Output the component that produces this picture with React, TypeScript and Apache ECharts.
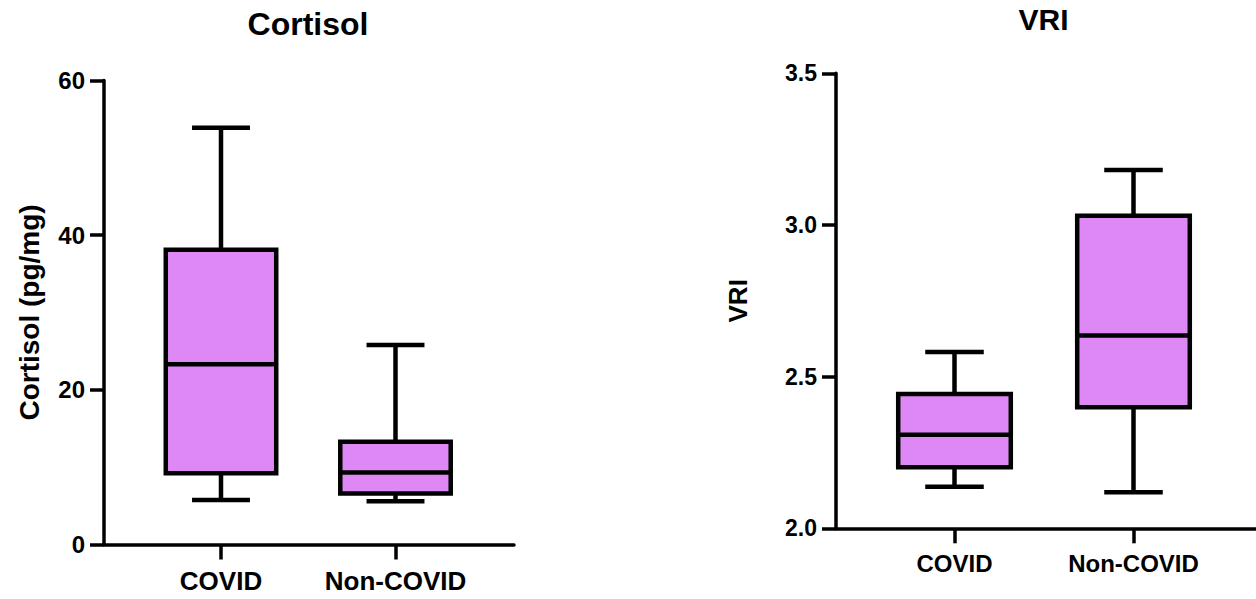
import React, { useEffect, useRef } from "react";
import * as echarts from "echarts";

const categories = ["COVID", "Non-COVID"];
// [min, q1, median, q3, max]
const cortisolCovid = [5.75, 9.2, 23.3, 38.1, 53.9];
const cortisolNonCovid = [5.6, 6.6, 9.3, 13.3, 25.8];
const vriCovid = [2.137, 2.201, 2.308, 2.443, 2.581];
const vriNonCovid = [2.119, 2.399, 2.636, 3.03, 3.181];

const cortisolAxis = { min: 0, max: 60, interval: 20 };
const vriAxis = { min: 2.0, max: 3.5, interval: 0.5 };

const FONT = "'Liberation Sans', Arial, Helvetica, sans-serif";
const FILL = "#DD88F5";
const LW = 4.5;

function makeRender(boxRatio: number, capRatio: number) {
  return (params: any, api: any) => {
    const c = api.value(0);
    const pts = [1, 2, 3, 4, 5].map((i) => api.coord([c, api.value(i)]));
    const band = api.size([1, 0])[0];
    const bw = band * boxRatio;
    const cw = band * capRatio;
    const cx = pts[0][0];
    const [yMin, yQ1, yMed, yQ3, yMax] = pts.map((p: number[]) => p[1]);
    const ls = { stroke: "#000", lineWidth: LW, fill: null };
    return {
      type: "group",
      children: [
        { type: "line", shape: { x1: cx, y1: yMax, x2: cx, y2: yQ3 }, style: ls },
        { type: "line", shape: { x1: cx, y1: yQ1, x2: cx, y2: yMin }, style: ls },
        { type: "line", shape: { x1: cx - cw / 2, y1: yMax, x2: cx + cw / 2, y2: yMax }, style: ls },
        { type: "line", shape: { x1: cx - cw / 2, y1: yMin, x2: cx + cw / 2, y2: yMin }, style: ls },
        {
          type: "rect",
          shape: { x: cx - bw / 2, y: yQ3, width: bw, height: yQ1 - yQ3 },
          style: { fill: FILL, stroke: "#000", lineWidth: LW },
        },
        { type: "line", shape: { x1: cx - bw / 2, y1: yMed, x2: cx + bw / 2, y2: yMed }, style: ls },
      ],
    };
  };
}

export default function App() {
  const ref = useRef<HTMLDivElement>(null);
  useEffect(() => {
    if (!ref.current) return;
    const chart = echarts.init(ref.current, undefined, { renderer: "svg" });
    const axisLine = { show: true, lineStyle: { color: "#000", width: 3.5 } };
    const option: any = {
      animation: false,
      backgroundColor: "#fff",
      title: [
        {
          text: "Cortisol",
          left: 308,
          top: 7.5,
          textAlign: "center",
          padding: 0,
          textStyle: { fontFamily: FONT, fontWeight: "bold", fontSize: 32, color: "#000" },
        },
        {
          text: "VRI",
          left: 1043.5,
          top: 4,
          textAlign: "center",
          padding: 0,
          textStyle: { fontFamily: FONT, fontWeight: "bold", fontSize: 30, color: "#000" },
        },
      ],
      grid: [
        { left: 104, width: 410, top: 80.5, bottom: 54.5 },
        { left: 133.75, width: 349, top: 80.5, bottom: 54.5 },
        { left: 836, right: 0, top: 73.3, bottom: 70.7 },
        { left: 865, width: 358, top: 73.3, bottom: 70.7 },
      ],
      xAxis: [
        { gridIndex: 0, type: "value", min: 0, max: 1, axisLine, axisTick: { show: false }, axisLabel: { show: false }, splitLine: { show: false } },
        {
          gridIndex: 1,
          type: "category",
          data: categories,
          axisLine: { show: false },
          axisTick: { show: true, interval: 0, alignWithLabel: true, length: 15, lineStyle: { color: "#000", width: 3.5 } },
          axisLabel: { interval: 0, hideOverlap: false, margin: 23, fontFamily: FONT, fontWeight: "bold", fontSize: 26, color: "#000" },
        },
        { gridIndex: 2, type: "value", min: 0, max: 1, axisLine, axisTick: { show: false }, axisLabel: { show: false }, splitLine: { show: false } },
        {
          gridIndex: 3,
          type: "category",
          data: categories,
          axisLine: { show: false },
          axisTick: { show: true, interval: 0, alignWithLabel: true, length: 15, lineStyle: { color: "#000", width: 3.5 } },
          axisLabel: { interval: 0, hideOverlap: false, margin: 23, fontFamily: FONT, fontWeight: "bold", fontSize: 24, color: "#000" },
        },
      ],
      yAxis: [
        {
          gridIndex: 0,
          type: "value",
          ...cortisolAxis,
          name: "Cortisol (pg/mg)",
          nameLocation: "middle",
          nameRotate: 90,
          nameGap: 61,
          nameTextStyle: { fontFamily: FONT, fontWeight: "bold", fontSize: 28, color: "#000" },
          axisLine,
          axisTick: { show: true, length: 14, lineStyle: { color: "#000", width: 3.5 } },
          axisLabel: { margin: 19, fontFamily: FONT, fontWeight: "bold", fontSize: 24, color: "#000" },
          splitLine: { show: false },
        },
        { gridIndex: 1, type: "value", ...cortisolAxis, show: false, splitLine: { show: false } },
        {
          gridIndex: 2,
          type: "value",
          ...vriAxis,
          name: "VRI",
          nameLocation: "middle",
          nameRotate: 90,
          nameGap: 85,
          nameTextStyle: { fontFamily: FONT, fontWeight: "bold", fontSize: 26, color: "#000" },
          axisLine,
          axisTick: { show: true, length: 14, lineStyle: { color: "#000", width: 3.5 } },
          axisLabel: {
            margin: 19,
            fontFamily: FONT,
            fontWeight: "bold",
            fontSize: 23,
            color: "#000",
            formatter: (v: number) => v.toFixed(1),
          },
          splitLine: { show: false },
        },
        { gridIndex: 3, type: "value", ...vriAxis, show: false, splitLine: { show: false } },
      ],
      series: [
        {
          type: "custom",
          xAxisIndex: 1,
          yAxisIndex: 1,
          renderItem: makeRender(0.633, 0.332),
          encode: { x: 0, y: [1, 2, 3, 4, 5] },
          data: [
            [0, ...cortisolCovid],
            [1, ...cortisolNonCovid],
          ],
        },
        {
          type: "custom",
          xAxisIndex: 3,
          yAxisIndex: 3,
          renderItem: makeRender(0.629, 0.327),
          encode: { x: 0, y: [1, 2, 3, 4, 5] },
          data: [
            [0, ...vriCovid],
            [1, ...vriNonCovid],
          ],
        },
      ],
    };
    chart.setOption(option);
    return () => chart.dispose();
  }, []);
  return (
    <div
      ref={ref}
      style={{ position: "fixed", left: 0, top: 0, width: 1256, height: 599, background: "#fff" }}
    />
  );
}
